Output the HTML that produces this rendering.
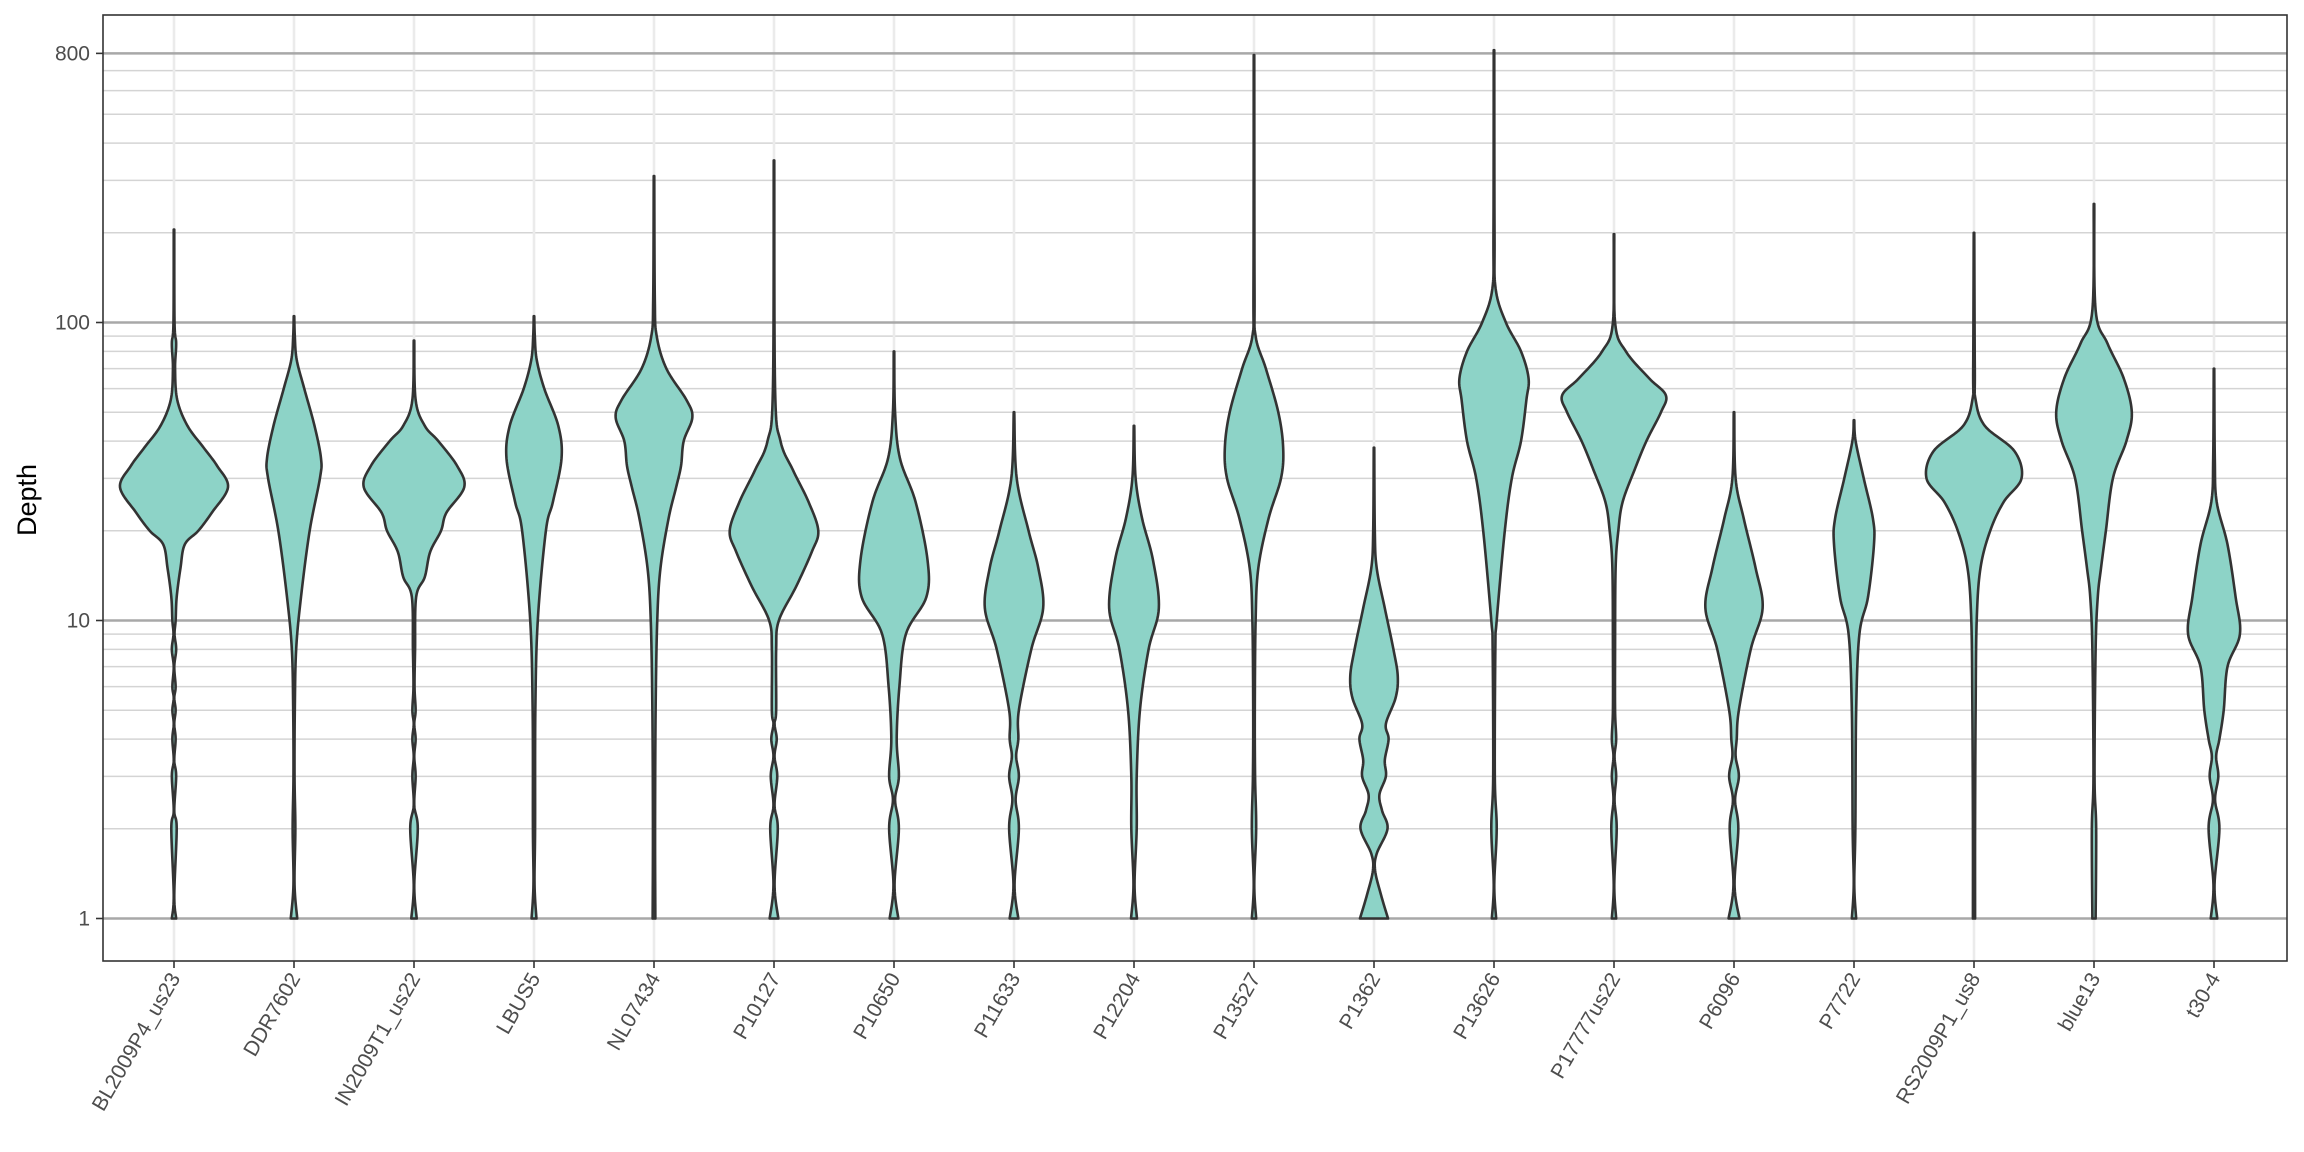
<!DOCTYPE html>
<html><head><meta charset="utf-8"><style>
html,body{margin:0;padding:0;background:#fff;}
svg{display:block;font-family:"Liberation Sans",sans-serif;}
</style></head><body>
<svg id="chart" width="2304" height="1152" viewBox="0 0 2304 1152" xmlns="http://www.w3.org/2000/svg">
<rect x="0" y="0" width="2304" height="1152" fill="#fff"/>
<g id="grid"></g>
<g id="violins"></g>
<rect x="103" y="15" width="2184" height="946" fill="none" stroke="#333" stroke-width="1.6"/>
<g id="axes"></g>
<text x="0" y="0" transform="translate(36,500) rotate(-90)" text-anchor="middle" font-size="27" fill="#000">Depth</text>
</svg>
<script>
const categories = ["BL2009P4_us23","DDR7602","IN2009T1_us22","LBUS5","NL07434","P10127","P10650","P11633","P12204","P13527","P1362","P13626","P17777us22","P6096","P7722","RS2009P1_us8","blue13","t30-4"];
const yTickValues = [1,10,100,800];
const yTickLabels = ["1","10","100","800"];
const yMinorValues = [2,3,4,5,6,7,8,9,20,30,40,50,60,70,80,90,200,300,400,500,600,700];
// density profiles: depth knots and half-width (density) values
const depthBL = [1,1.2,2,2.3,3,3.4,4,4.5,5,5.5,6,7,8,9,10,12,15,18,20,23,28,33,38,45,55,70,85,100,205];
const widthBL = [.04,.005,.05,.005,.04,.005,.03,.005,.03,.005,.03,.005,.04,.01,.03,.05,.12,.2,.45,.7,1,.8,.55,.25,.06,.02,.04,.01,.005];
const depthDDR = [1,1.3,2,3,5,8,12,20,30,35,45,60,75,90,105];
const widthDDR = [.06,.01,.025,.01,.015,.04,.13,.29,.48,.5,.38,.19,.05,.015,.005];
const depthIN = [1,1.3,2,2.4,3,3.5,4,4.5,5,6,8,12,14,17,20,23,28,33,40,45,55,87];
const widthIN = [.05,.005,.07,.005,.03,.005,.03,.005,.03,.01,.02,.04,.2,.3,.5,.6,.93,.8,.45,.2,.03,.005];
const depthLB = [1,1.3,2,5,10,20,25,35,45,60,75,90,105];
const widthLB = [.045,.01,.02,.025,.07,.22,.35,.51,.45,.19,.05,.015,.005];
const depthNL = [1,2,5,10,15,22,28,33,40,48,55,70,90,120,310];
const widthNL = [.025,.02,.03,.06,.12,.27,.41,.5,.55,.71,.6,.23,.05,.015,.005];
const depthP10127 = [1,1.3,2,2.4,3,3.5,4,4.5,5,8,10,13,17,20,25,32,40,60,350];
const widthP10127 = [.08,.01,.07,.01,.06,.01,.05,.01,.04,.04,.09,.41,.7,.82,.64,.35,.12,.02,.005];
const depthP10650 = [1,1.3,2,2.5,3,4,6,9,12,16,25,35,50,80];
const widthP10650 = [.08,.01,.09,.02,.09,.05,.1,.22,.6,.62,.4,.11,.02,.005];
const depthP11633 = [1,1.3,2,2.5,3,3.5,4,5,8,11,15,20,30,50];
const widthP11633 = [.08,.01,.09,.03,.09,.04,.08,.09,.32,.54,.45,.27,.05,.005];
const depthP12204 = [1,1.3,2,3,5,8,11,16,22,30,45];
const widthP12204 = [.055,.01,.05,.05,.11,.27,.46,.35,.15,.03,.005];
const depthP13527 = [1,1.3,2,3,5,10,15,22,30,38,50,70,90,130,790];
const widthP13527 = [.04,.005,.04,.02,.015,.03,.08,.27,.5,.54,.45,.22,.03,.01,.005];
const depthP1362 = [1,1.2,1.45,1.65,2,2.3,2.6,3,3.4,4,4.5,5.5,6.5,8,11,15,20,38];
const widthP1362 = [.26,.13,.02,.05,.25,.15,.1,.22,.2,.27,.22,.4,.44,.36,.2,.05,.015,.005];
const depthP13626 = [1,1.3,2,3,8,10,20,30,40,55,65,80,100,130,200,820];
const widthP13626 = [.04,.005,.05,.015,.025,.05,.2,.33,.5,.6,.64,.5,.22,.03,.01,.005];
const depthP17777 = [1,1.3,2,2.5,3,3.5,4,5,8,15,20,25,32,40,50,57,65,80,100,198];
const widthP17777 = [.04,.005,.05,.01,.04,.01,.04,.02,.02,.03,.08,.16,.38,.6,.87,.96,.65,.22,.02,.005];
const depthP6096 = [1,1.3,2,2.5,3,3.5,4,5,8,11,15,22,30,50];
const widthP6096 = [.1,.01,.08,.02,.09,.03,.05,.09,.31,.53,.4,.18,.03,.005];
const depthP7722 = [1,1.3,2,5,9,12,18,22,30,40,47];
const widthP7722 = [.04,.005,.025,.04,.1,.26,.37,.35,.18,.03,.005];
const depthRS = [1,2,5,10,15,20,25,30,37,45,55,70,200];
const widthRS = [.02,.02,.03,.05,.12,.3,.55,.88,.75,.2,.03,.015,.005];
const depthBlue = [1,2,3,8,12,15,20,30,40,50,65,85,110,250];
const widthBlue = [.03,.04,.01,.03,.07,.13,.22,.35,.6,.7,.55,.25,.03,.005];
const depthT30 = [1,1.3,2,2.5,3,3.5,4,5,7,9,12,18,25,35,70];
const widthT30 = [.06,.01,.1,.02,.08,.04,.1,.18,.25,.48,.4,.25,.05,.015,.005];

const depthSets = [depthBL,depthDDR,depthIN,depthLB,depthNL,depthP10127,depthP10650,depthP11633,depthP12204,depthP13527,depthP1362,depthP13626,depthP17777,depthP6096,depthP7722,depthRS,depthBlue,depthT30];
const widthSets = [widthBL,widthDDR,widthIN,widthLB,widthNL,widthP10127,widthP10650,widthP11633,widthP12204,widthP13527,widthP1362,widthP13626,widthP17777,widthP6096,widthP7722,widthRS,widthBlue,widthT30];

const NS="http://www.w3.org/2000/svg";
const PL=103, PR=2287, PT=15, PB=961;
function xPos(i){ return 174 + 120*i; }
function yPos(v){ return 918.5 - 298*Math.log10(v); }
const WSCALE = 54;
function mk(tag, attrs, parent){ const e=document.createElementNS(NS,tag); for(const k in attrs) e.setAttribute(k,attrs[k]); parent.appendChild(e); return e; }

const grid=document.getElementById('grid');
yMinorValues.forEach(v=>{
  const l=mk('line',{x1:PL,x2:PR,y1:yPos(v),y2:yPos(v),stroke:'#D4D4D4','stroke-width':1.5},grid);
  
  
});
categories.forEach((c,i)=>{
  const l=mk('line',{x1:xPos(i),x2:xPos(i),y1:PT,y2:PB,stroke:'#EBEBEB','stroke-width':2.6},grid);
  
  
});
yTickValues.forEach(v=>{
  const l=mk('line',{x1:PL,x2:PR,y1:yPos(v),y2:yPos(v),stroke:'#A8A8A8','stroke-width':2.6},grid);
  
  
});

function profile(depths, widths){
  const pts=depths.map((d,k)=>[yPos(d), widths[k]*WSCALE]);
  const out=[];
  for(let k=0;k<pts.length-1;k++){
    const p0=pts[Math.max(0,k-1)], p1=pts[k], p2=pts[k+1], p3=pts[Math.min(pts.length-1,k+2)];
    const N=12;
    for(let s=0;s<N;s++){
      const t=s/N, t2=t*t, t3=t2*t;
      const f=(a,b,c,d)=>0.5*((2*b)+(-a+c)*t+(2*a-5*b+4*c-d)*t2+(-a+3*b-3*c+d)*t3);
      let y=f(p0[0],p1[0],p2[0],p3[0]);
      let w=f(p0[1],p1[1],p2[1],p3[1]);
      const lo=Math.min(p1[1],p2[1]);
      if(w<lo*0.5) w=lo*0.5;
      if(w<0.25) w=0.25;
      out.push([y,w]);
    }
  }
  const last=pts[pts.length-1];
  out.push([last[0],Math.max(last[1],0.25)]);
  return out;
}

const vg=document.getElementById('violins');
categories.forEach((c,i)=>{
  const prof=profile(depthSets[i], widthSets[i]);
  const cx=xPos(i);
  let d='M'+(cx-prof[0][1]).toFixed(2)+','+prof[0][0].toFixed(2);
  prof.forEach(p=>{ d+=' L'+(cx+p[1]).toFixed(2)+','+p[0].toFixed(2); });
  for(let k=prof.length-1;k>=0;k--){ d+=' L'+(cx-prof[k][1]).toFixed(2)+','+prof[k][0].toFixed(2); }
  d+=' Z';
  const p=mk('path',{d:d,fill:'#8DD3C7',stroke:'#333333','stroke-width':2.6,'stroke-linejoin':'round'},vg);
  
  
});

const axes=document.getElementById('axes');
yTickValues.forEach((v,k)=>{
  const t=mk('line',{x1:96,x2:103,y1:yPos(v),y2:yPos(v),stroke:'#333','stroke-width':1.6},axes);
  
  
  const tx=mk('text',{x:90,y:yPos(v)+7,'text-anchor':'end','font-size':21,fill:'#4D4D4D'},axes);
  tx.textContent=yTickLabels[k];
  
  
});
categories.forEach((c,i)=>{
  const x=xPos(i);
  const t=mk('line',{x1:x,x2:x,y1:PB,y2:PB+7,stroke:'#333','stroke-width':1.6},axes);
  
  
  const tx=mk('text',{x:0,y:0,'text-anchor':'end','font-size':21,fill:'#4D4D4D',transform:'translate('+(x+7)+','+(PB+17)+') rotate(-60)'},axes);
  tx.textContent=c;
  
  
});
</script>
</body></html>
